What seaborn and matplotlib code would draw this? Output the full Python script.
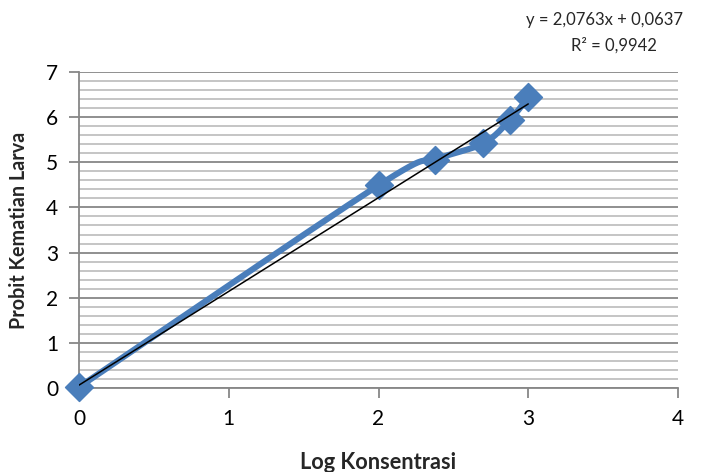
import numpy as np
import pandas as pd
import matplotlib
matplotlib.use("Agg")
import matplotlib.pyplot as plt
import seaborn as sns

# data
log_konsentrasi = [0.0, 2.0, 2.38, 2.70, 2.875, 3.0]
probit = [0.02, 4.49, 5.06, 5.42, 5.93, 6.44]
slope = 2.0763
intercept = 0.0637
r2 = 0.9942
x_ticks = [0, 1, 2, 3, 4]
y_ticks = [0, 1, 2, 3, 4, 5, 6, 7]

sns.set_theme(style="white")
plt.rcParams['font.family'] = ['Lato', 'DejaVu Sans']

fig = plt.figure(figsize=(7.06, 4.72), dpi=100)
ax = fig.add_axes([79/706, 84/472, (678-79)/706, (388-72)/472])

# Excel-like smooth line (bezier through the points)
def smooth(xs, ys, n=30):
    P = np.column_stack([xs, ys])
    out = []
    for i in range(len(P) - 1):
        p0 = P[i - 1] if i > 0 else P[i]
        p1 = P[i]
        p2 = P[i + 1]
        p3 = P[i + 2] if i + 2 < len(P) else P[i + 1]
        c1 = p1 + (p2 - p0) / 6
        c2 = p2 - (p3 - p1) / 6
        t = np.linspace(0, 1, n)[:, None]
        seg = (1 - t) ** 3 * p1 + 3 * (1 - t) ** 2 * t * c1 + 3 * (1 - t) * t ** 2 * c2 + t ** 3 * p2
        out.append(seg if i == 0 else seg[1:])
    return np.vstack(out)

curve = smooth(log_konsentrasi, probit)
df_curve = pd.DataFrame({"x": curve[:, 0], "y": curve[:, 1]})
df = pd.DataFrame({"x": log_konsentrasi, "y": probit})

# grid
for v in np.arange(0, 7.01, 0.2):
    if abs(v - round(v)) < 1e-6:
        continue
    ax.axhline(v, color="#c0c0c0", lw=1.3, zorder=0)
for v in y_ticks:
    ax.axhline(v, color="#878787", lw=1.3, zorder=0.5)

sns.lineplot(data=df_curve, x="x", y="y", sort=False, color="#4a7ebb", lw=4.4, ax=ax,
             zorder=3, solid_capstyle="round")
sns.scatterplot(data=df, x="x", y="y", marker="D", s=200, color="#4a7ebb",
                edgecolor="#4a7ebb", ax=ax, zorder=4, clip_on=False)

# trendline
tx = np.array([log_konsentrasi[0], log_konsentrasi[-1]])
ax.plot(tx, slope * tx + intercept, color="black", lw=1.1, zorder=5)

ax.set_xlim(0, 4)
ax.set_ylim(0, 7)
ax.set_xticks(x_ticks)
ax.set_yticks(y_ticks)
ax.set_xticklabels([str(v) for v in x_ticks], fontsize=15)
ax.set_yticklabels([str(v) for v in y_ticks], fontsize=15)
ax.tick_params(axis="both", direction="out", length=7, width=1.3, color="#878787",
               bottom=True, left=True, pad=8, labelcolor="black")
for s in ["top", "right"]:
    ax.spines[s].set_visible(False)
for s in ["left", "bottom"]:
    ax.spines[s].set_color("#878787")
    ax.spines[s].set_linewidth(1.3)

xl = ax.set_xlabel("Log Konsentrasi", fontsize=12, fontweight="bold")
yl = ax.set_ylabel("Probit Kematian Larva", fontsize=12, fontweight="bold", labelpad=12)
ax.xaxis.set_label_coords(0.5, (388 - 469) / 316)
xl.set_va("baseline")

t1 = fig.text(604/706, 1 - 20/472, "y = {:.4f}x + {:.4f}".format(slope, intercept).replace(".", ","),
              ha="center", va="center", fontsize=12)
t2 = fig.text(614/706, 1 - 45/472, "R² = {:.4f}".format(r2).replace(".", ","),
              ha="center", va="center", fontsize=12)

# fit label font sizes to the reference text widths (pixels)
fig.canvas.draw()
r = fig.canvas.get_renderer()
def fit(txt, target, horiz=True):
    bb = txt.get_window_extent(r)
    w = bb.width if horiz else bb.height
    txt.set_fontsize(txt.get_fontsize() * target / w)
fit(xl, 155)
fit(yl, 195, horiz=False)

fig.savefig("out.png", dpi=100)
